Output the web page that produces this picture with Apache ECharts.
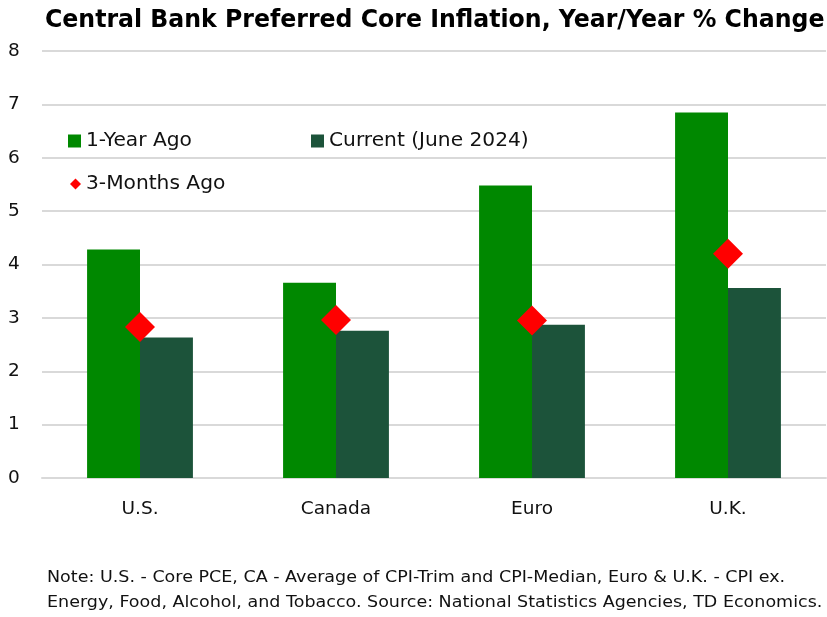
<!DOCTYPE html>
<html><head><meta charset="utf-8">
<script src="https://cdn.jsdelivr.net/npm/echarts@6/dist/echarts.min.js"></script>
<style>html,body{margin:0;padding:0;background:#fff}#c{width:827px;height:617px}</style>
</head><body><div id="c"></div>
<script>
const categories = ['U.S.', 'Canada', 'Euro', 'U.K.'];
const oneYearAgo = [4.28, 3.66, 5.48, 6.85];
const current = [2.63, 2.76, 2.87, 3.56];
const threeMonthsAgo = [2.83, 2.96, 2.95, 4.2];
const yTicks = [0, 1, 2, 3, 4, 5, 6, 7, 8];

const FONT = 'DejaVu Sans';
const chart = echarts.init(document.getElementById('c'), null, {renderer: 'canvas'});
chart.setOption({
  animation: false,
  backgroundColor: '#fff',
  legend: [
    {data: [{name: '1-Year Ago', icon: 'rect'}], left: 63, top: 126, itemWidth: 13, itemHeight: 13, itemGap: 6,
     textStyle: {fontFamily: FONT, fontSize: 20.2, color: '#111'}},
    {data: [{name: 'Current (June 2024)', icon: 'rect'}], left: 306, top: 126, itemWidth: 13, itemHeight: 13,
     textStyle: {fontFamily: FONT, fontSize: 20.2, color: '#111'}},
    {data: [{name: '3-Months Ago', icon: 'diamond'}], left: 65, top: 169, itemWidth: 11, itemHeight: 11,
     textStyle: {fontFamily: FONT, fontSize: 20.2, color: '#111'}}
  ],
  grid: {left: 42, right: 1, top: 51, bottom: 139},
  xAxis: {
    type: 'category', data: categories,
    axisLine: {show: true, lineStyle: {color: '#d9d9d9', width: 2}},
    axisTick: {show: false},
    axisLabel: {fontFamily: FONT, fontSize: 18.5, color: '#111', margin: 22}
  },
  yAxis: {
    type: 'value', min: yTicks[0], max: yTicks[yTicks.length - 1], interval: 1,
    axisLine: {show: false}, axisTick: {show: false},
    splitLine: {lineStyle: {color: '#d9d9d9', width: 2}},
    axisLabel: {fontFamily: FONT, fontSize: 18.5, color: '#111', margin: 28, align: 'center'}
  },
  series: [
    {name: '1-Year Ago', type: 'bar', data: oneYearAgo, barGap: '0%', barCategoryGap: '46%',
     itemStyle: {color: '#008800'}},
    {name: 'Current (June 2024)', type: 'bar', data: current,
     itemStyle: {color: '#1c533a'}},
    {name: '3-Months Ago', type: 'scatter', data: threeMonthsAgo, symbol: 'diamond', symbolSize: 30,
     itemStyle: {color: '#ff0000', opacity: 1}, z: 5}
  ],
  graphic: [
    {type: 'text', x: 45, y: 9, scaleX: 0.984, style: {
      text: 'Central Bank Preferred Core Inflation, Year/Year % Change',
      font: 'bold 24px "DejaVu Sans"', fill: '#000'}},
    {type: 'text', x: 47, y: 566, scaleX: 1.167, style: {
      text: 'Note: U.S. - Core PCE, CA - Average of CPI-Trim and CPI-Median, Euro & U.K. - CPI ex.\nEnergy, Food, Alcohol, and Tobacco. Source: National Statistics Agencies, TD Economics.',
      font: '15px "' + FONT + '"', fill: '#111', lineHeight: 25}}
  ]
});
</script></body></html>
